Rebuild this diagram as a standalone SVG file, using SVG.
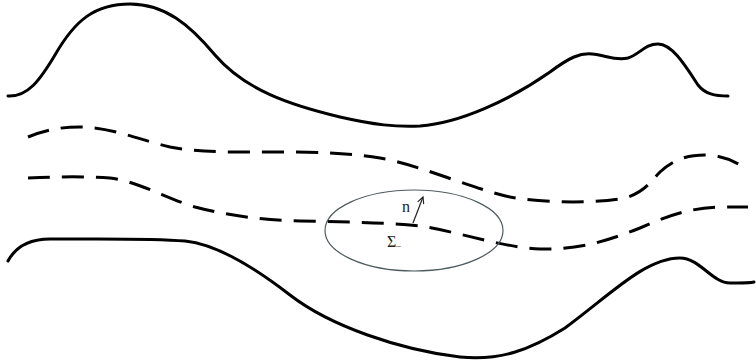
<svg xmlns="http://www.w3.org/2000/svg" width="756" height="364" viewBox="0 0 756 364">
<defs>
<style>
.solid{fill:none;stroke:#000;stroke-width:3;stroke-linecap:round}
.dash{fill:none;stroke:#000;stroke-width:3;stroke-dasharray:22 12}
.ell{fill:none;stroke:#4f5a5e;stroke-width:1.2}
.lbl{font-family:"Liberation Serif",serif;font-size:16px;fill:#222}
</style>
<marker id="ah" viewBox="0 0 10 10" refX="9" refY="5" markerWidth="8" markerHeight="8" orient="auto" markerUnits="userSpaceOnUse">
<path d="M1,1 L9,5 L1,9" fill="none" stroke="#222" stroke-width="1.4"/>
</marker>
</defs>
<rect width="756" height="364" fill="#fff"/>
<g id="boundary-top">
<path class="solid" d="M8,96 C28,97 40,80 55,55 C75,20 95,4 130,4 C165,4 190,25 215,55 C245,90 290,105 340,117 C375,125 395,127 420,126 C460,123 510,100 550,72 C570,57 580,53 592,54 C605,55 615,61 628,58 C640,54 645,44 658,44 C672,44 685,65 698,85 C705,94 715,96 728,96"/>
</g>
<g id="boundary-bottom">
<path class="solid" d="M8,261 C15,248 28,239 50,239 C100,239 150,238 185,241 C215,244 250,264 290,295 C330,326 400,350 460,357 C500,361 530,350 565,328 C610,295 645,258 680,258 C700,258 712,283 730,283 C740,283 750,283 754,282"/>
</g>
<g id="interface-upper">
<path class="dash" d="M28,137 C45,130 60,127 80,127 C110,127 140,140 170,147 C200,153 240,152 280,152 C320,152 350,153 380,158 C420,165 470,188 510,197 C550,204 600,203 625,198 C645,192 650,182 660,172 C675,158 690,155 705,155 C720,155 732,160 742,166"/>
</g>
<g id="interface-lower">
<path class="dash" d="M28,178 C50,177 80,176 110,178 C140,182 165,198 195,207 C225,215 260,220 300,221 C340,222 380,222 420,226 C460,232 500,247 540,249 C580,250 610,240 640,228 C670,215 690,208 720,207 L748,207"/>
</g>
<g id="region-ellipse">
<ellipse class="ell" cx="414" cy="230.5" rx="89" ry="40.5"/>
<text class="lbl" x="402" y="212">n</text>
<text class="lbl" x="387" y="247">Σ<tspan font-size="9" dy="1">–</tspan></text>
</g>
<g id="connectors">
<line x1="413" y1="223" x2="423" y2="197" stroke="#222" stroke-width="1.2" marker-end="url(#ah)"/>
</g>
</svg>
